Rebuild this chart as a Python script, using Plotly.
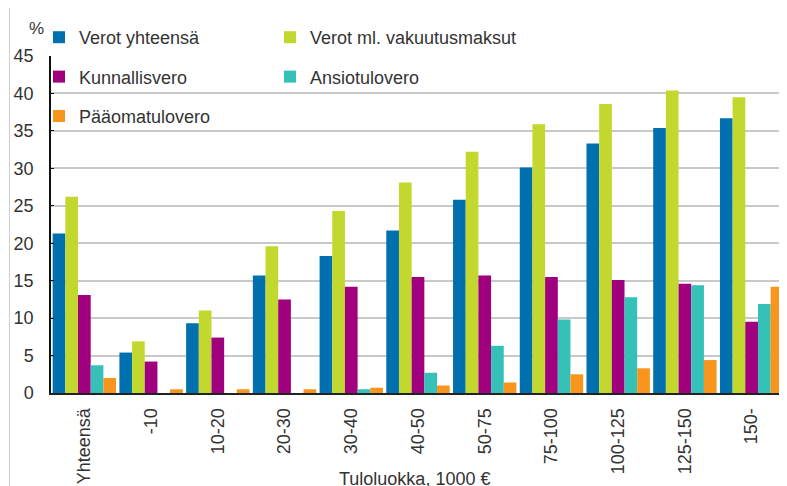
import plotly.graph_objects as go

categories = ["Yhteensä", "-10", "10-20", "20-30", "30-40", "40-50", "50-75",
              "75-100", "100-125", "125-150", "150-"]
verot_yhteensa = [21.3, 5.4, 9.3, 15.7, 18.3, 21.7, 25.8, 30.1, 33.3, 35.4, 36.7]
verot_ml_vakuutusmaksut = [26.2, 6.9, 11.0, 19.6, 24.3, 28.1, 32.2, 35.9, 38.6, 40.4, 39.5]
kunnallisvero = [13.1, 4.2, 7.4, 12.5, 14.2, 15.5, 15.7, 15.5, 15.1, 14.6, 9.5]
ansiotulovero = [3.7, 0, 0, 0, 0.5, 2.7, 6.3, 9.8, 12.8, 14.4, 11.9]
paaomatulovero = [2.0, 0.5, 0.5, 0.5, 0.7, 1.0, 1.4, 2.5, 3.3, 4.4, 14.2]
y_ticks = [0, 5, 10, 15, 20, 25, 30, 35, 40, 45]

series = [
    ("Verot yhteensä", verot_yhteensa, "#0071AE", "legend"),
    ("Verot ml. vakuutusmaksut", verot_ml_vakuutusmaksut, "#C2D82E", "legend2"),
    ("Kunnallisvero", kunnallisvero, "#A0007D", "legend"),
    ("Ansiotulovero", ansiotulovero, "#35C0B8", "legend2"),
    ("Pääomatulovero", paaomatulovero, "#F8951D", "legend"),
]

FONT = "Liberation Sans, Arial, sans-serif"
TXT = "#333333"

fig = go.Figure()
for i, (name, vals, color, leg) in enumerate(series):
    fig.add_trace(go.Bar(
        x=categories, y=vals, name=name,
        marker=dict(color=color, line=dict(width=0)),
        legend=leg, legendgroup=f"g{i}",
    ))

# the page body adds an 8px offset; work in reference pixels and shift
OFF = 8
W, H = 787 - OFF, 486 - OFF
plot_left, plot_right, plot_top, plot_bottom = 51, 785, 56, 393
L = plot_left - OFF
T = plot_top - OFF
R = W - (plot_right - OFF)
B = H - (plot_bottom - OFF)
pw, ph = W - L - R, H - T - B

def px_x(x):
    return (x - plot_left) / pw

def px_y(y):
    return (plot_bottom - y) / ph

fig.update_layout(
    width=W, height=H,
    margin=dict(l=L, r=R, t=T, b=B, autoexpand=False),
    paper_bgcolor="white", plot_bgcolor="white",
    barmode="group", bargap=0.05, bargroupgap=0,
    font=dict(family=FONT, size=18, color=TXT),
    showlegend=True,
    legend=dict(
        x=px_x(39), y=px_y(19), xanchor="left", yanchor="top",
        xref="paper", yref="paper",
        orientation="v", bgcolor="rgba(0,0,0,0)", tracegroupgap=13,
        font=dict(family=FONT, size=18, color=TXT),
    ),
    legend2=dict(
        x=px_x(270), y=px_y(19), xanchor="left", yanchor="top",
        xref="paper", yref="paper",
        orientation="v", bgcolor="rgba(0,0,0,0)", tracegroupgap=13,
        font=dict(family=FONT, size=18, color=TXT),
    ),
    xaxis=dict(
        type="category", tickangle=-90, showgrid=False,
        showline=True, linecolor="#222222", linewidth=2,
        ticks="", ticklabelstandoff=6, automargin=False,
        tickfont=dict(family=FONT, size=18, color=TXT),
    ),
    yaxis=dict(
        range=[0, 45], tickvals=y_ticks, showgrid=True,
        gridcolor="#C9C9C9", gridwidth=1.5,
        showline=True, linecolor="#111111", linewidth=1.5,
        ticks="inside", ticklen=3, tickcolor="#111111",
        ticklabelstandoff=12, zeroline=False, automargin=False,
        tickfont=dict(family=FONT, size=18, color=TXT),
    ),
    shapes=[
        dict(type="rect", xref="paper", yref="y", layer="between",
             x0=0.002, x1=px_x(515), y0=34, y1=46,
             fillcolor="white", line=dict(width=0)),
        dict(type="rect", xref="paper", yref="paper", layer="above",
             x0=px_x(9.5), x1=px_x(800), y0=px_y(500), y1=px_y(3.5),
             fillcolor="rgba(0,0,0,0)", line=dict(color="#CFCFCF", width=1)),
    ],
    annotations=[
        dict(text="%", xref="paper", yref="paper", x=px_x(36), y=px_y(28),
             xanchor="center", yanchor="middle", showarrow=False,
             font=dict(family=FONT, size=17, color=TXT)),
        dict(text="Tuloluokka, 1000 €", xref="paper", yref="paper",
             x=px_x(414), y=px_y(467), xanchor="center", yanchor="top",
             showarrow=False, font=dict(family=FONT, size=18, color=TXT)),
    ],
)

fig.write_html("out.html")
